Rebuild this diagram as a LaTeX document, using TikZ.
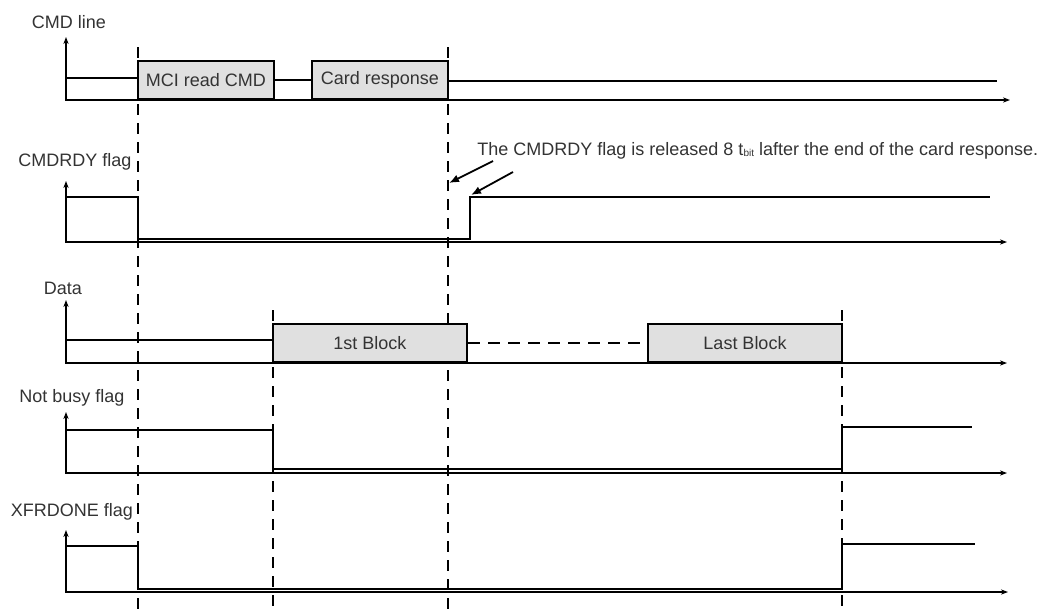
\documentclass[tikz,border=0pt]{standalone}
\usepackage{fontspec}
\setmainfont{Liberation Sans}
\usetikzlibrary{arrows.meta}

\begin{document}
\begin{tikzpicture}[x=0.5pt,y=-0.5pt,
  lbl/.style={text=black!80,font=\fontsize{9}{11}\selectfont,inner sep=0pt},
  sig/.style={line width=1.2pt},
  axis/.style={line width=0.65pt,{Stealth[length=3.5pt,width=2.6pt]}-{Stealth[length=3.5pt,width=2.6pt]}},
  guide/.style={line width=1.1pt,dash pattern=on 5.5pt off 4pt},
  block/.style={draw,line width=1.2pt,fill=black!12,text=black!80,inner sep=0pt,
    font=\fontsize{9}{11}\selectfont,minimum height=19pt},
  callout/.style={line width=0.9pt,-{Latex[length=5pt,width=4pt]}}]
  \useasboundingbox (0,0) rectangle (1039,611);

  % time marks
  \foreach \x/\t in {138/47,448/47,273/310,842/310}
    \draw[guide] (\x,\t) -- (\x,611);

  % CMD line
  \node[lbl] (cmdlbl) at (69,22) {CMD line};
  \draw[axis] (66,37) -- (66,100) -- (1010,100);
  \node[block,minimum width=68pt] (mci) at (206,80) {MCI read CMD};
  \node[block,minimum width=68pt] (card) at (380,80) {Card response};
  \draw[sig] (66,78) -- (138,78);
  \draw[sig] (mci.east) -- (card.west);
  \draw[sig] (448,81) -- (997,81);

  % CMDRDY flag
  \node[lbl] (rdylbl) at (75,162) {CMDRDY flag};
  \draw[axis] (66,181) -- (66,242) -- (1007,242);
  \draw[sig] (66,197) -- (138,197) -- (138,239) -- (470,239) -- (470,197) -- (990,197);
  \node[lbl,anchor=west] (note) at (477,151)
    {The CMDRDY flag is released 8 t\raisebox{-0.6pt}{\fontsize{5}{6}\selectfont bit} lafter the end of the card response.};
  \coordinate (tail1) at (493,161);
  \coordinate (head1) at (449,183);
  \coordinate (tail2) at (513,172);
  \coordinate (head2) at (471,195);
  \draw[callout] (tail1) -- (head1);
  \draw[callout] (tail2) -- (head2);

  % Data
  \node[lbl] (datalbl) at (63,288) {Data};
  \draw[axis] (66,300) -- (66,363) -- (1007,363);
  \node[block,minimum width=97pt] (first) at (370,343) {1st Block};
  \node[block,minimum width=97pt] (last) at (745,343) {Last Block};
  \draw[sig] (66,340) -- (273,340);
  \draw[sig,dash pattern=on 6pt off 4pt] (first.east) -- (last.west);

  % Not busy flag
  \node[lbl] (busylbl) at (72,398) {Not busy flag};
  \draw[axis] (66,412) -- (66,473) -- (1007,473);
  \draw[sig] (66,430) -- (273,430) -- (273,469) -- (842,469) -- (842,427) -- (972,427);

  % XFRDONE flag
  \node[lbl] (donelbl) at (72,512) {XFRDONE flag};
  \draw[axis] (66,530) -- (66,592) -- (1008,592);
  \draw[sig] (66,546) -- (138,546) -- (138,589) -- (842,589) -- (842,544) -- (975,544);
\end{tikzpicture}
\end{document}
